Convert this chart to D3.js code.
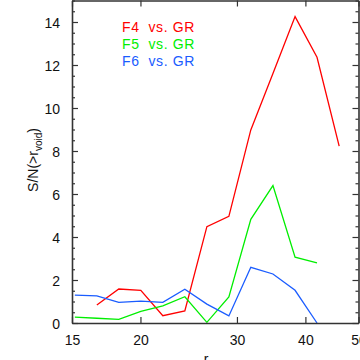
<!DOCTYPE html>
<html><head><meta charset="utf-8">
<script src="https://cdn.jsdelivr.net/npm/d3@7"></script>
<style>
html,body{margin:0;padding:0;background:#fff;}
svg{display:block;font-family:"Liberation Sans",Arial,sans-serif;}
</style></head>
<body>
<script>
// Data
const rBins = [15.18, 16.65, 18.26, 20.03, 21.97, 24.1, 26.44, 29.0, 31.8, 34.9, 38.3, 42.0, 46.1];
const f4 = [null, 0.84, 1.58, 1.52, 0.34, 0.56, 4.48, 4.96, 8.98, 11.6, 14.25, 12.36, 8.23];
const f5 = [0.27, 0.22, 0.17, 0.54, 0.80, 1.22, 0.03, 1.21, 4.82, 6.39, 3.06, 2.80, null];
const f6 = [1.30, 1.26, 0.96, 1.02, 0.96, 1.57, 0.88, 0.33, 2.59, 2.28, 1.52, 0.0, null];
const seriesNames = ["F4 vs. GR", "F5 vs. GR", "F6 vs. GR"];
const seriesColors = ["#ff0000", "#00ee00", "#1a5cff"];
const xTicks = [15, 20, 30, 40, 50];
const yTicks = [0, 2, 4, 6, 8, 10, 12, 14];

const W = 360, H = 360;
const L = 72, R = 358.5, T = 0.5, B = 323;
const svg = d3.select("body").append("svg").attr("width", W).attr("height", H);

const x = d3.scaleLog().domain([15, 50]).range([L, R]);
const y = d3.scaleLinear().domain([0, 15]).range([B, T]);

const axisColor = "#333";
const tf = "14px";

// series lines
const allSeries = [f4, f5, f6];
const line = d3.line().defined(d => d[1] !== null).x(d => x(d[0])).y(d => y(d[1]));
allSeries.forEach((s, i) => {
  svg.append("path")
    .datum(rBins.map((r, j) => [r, s[j]]))
    .attr("d", line)
    .attr("fill", "none")
    .attr("stroke", seriesColors[i])
    .attr("stroke-width", 1.3);
});

// axes
const minorY = d3.range(0, 15.01, 0.5).filter(v => Math.abs(v % 2) > 1e-6);
function styleAxis(g) {
  g.select(".domain").attr("stroke", axisColor).attr("stroke-width", 1.6);
  g.selectAll(".tick line").attr("stroke", axisColor).attr("stroke-width", 1.2);
  g.selectAll("text").attr("fill", "#111").style("font-size", tf);
}
// left
const gl = svg.append("g").attr("transform", `translate(${L},0)`)
  .call(d3.axisLeft(y).tickValues(yTicks).tickSize(-6).tickSizeOuter(0).tickPadding(12).tickFormat(d3.format("d")));
styleAxis(gl);
gl.selectAll("text").attr("dy", "0.36em");
svg.append("g").attr("transform", `translate(${L},0)`)
  .call(d3.axisLeft(y).tickValues(minorY).tickSize(-3).tickFormat(""))
  .call(g => { g.select(".domain").remove(); g.selectAll("line").attr("stroke", axisColor).attr("stroke-width", 1.2); });
// right
const gr = svg.append("g").attr("transform", `translate(${R},0)`)
  .call(d3.axisRight(y).tickValues(yTicks).tickSize(-6).tickSizeOuter(0).tickFormat(""));
styleAxis(gr);
svg.append("g").attr("transform", `translate(${R},0)`)
  .call(d3.axisRight(y).tickValues(minorY).tickSize(-3).tickFormat(""))
  .call(g => { g.select(".domain").remove(); g.selectAll("line").attr("stroke", axisColor).attr("stroke-width", 1.2); });
// bottom
const gb = svg.append("g").attr("transform", `translate(0,${B})`)
  .call(d3.axisBottom(x).tickValues(xTicks).tickSize(-6).tickSizeOuter(0).tickPadding(12).tickFormat(d3.format("d")));
styleAxis(gb);
// top
const gt = svg.append("g").attr("transform", `translate(0,${T})`)
  .call(d3.axisTop(x).tickValues(xTicks).tickSize(-6).tickSizeOuter(0).tickFormat(""));
styleAxis(gt);

// axis titles
const xt = svg.append("text").attr("x", (L + R) / 2).attr("y", 364)
  .attr("text-anchor", "middle").style("font-size", "14px").attr("fill", "#111");
xt.append("tspan").text("r");
xt.append("tspan").attr("dy", 4).style("font-size", "10px").text("void");

const yt = svg.append("text").attr("transform", "translate(38,160) rotate(-90)")
  .attr("text-anchor", "middle").style("font-size", "14px").attr("fill", "#111");
yt.append("tspan").text("S/N(>r");
yt.append("tspan").attr("dy", 4).style("font-size", "10px").text("void");
yt.append("tspan").attr("dy", -4).text(")");

// legend
seriesNames.forEach((n, i) => {
  svg.append("text").attr("x", 122).attr("y", 32 + i * 17)
    .attr("fill", seriesColors[i]).style("font-size", "14px")
    .style("letter-spacing", "0.6px").style("white-space", "pre")
    .text(n.replace(" vs.", "  vs."));
});
</script>
</body></html>
